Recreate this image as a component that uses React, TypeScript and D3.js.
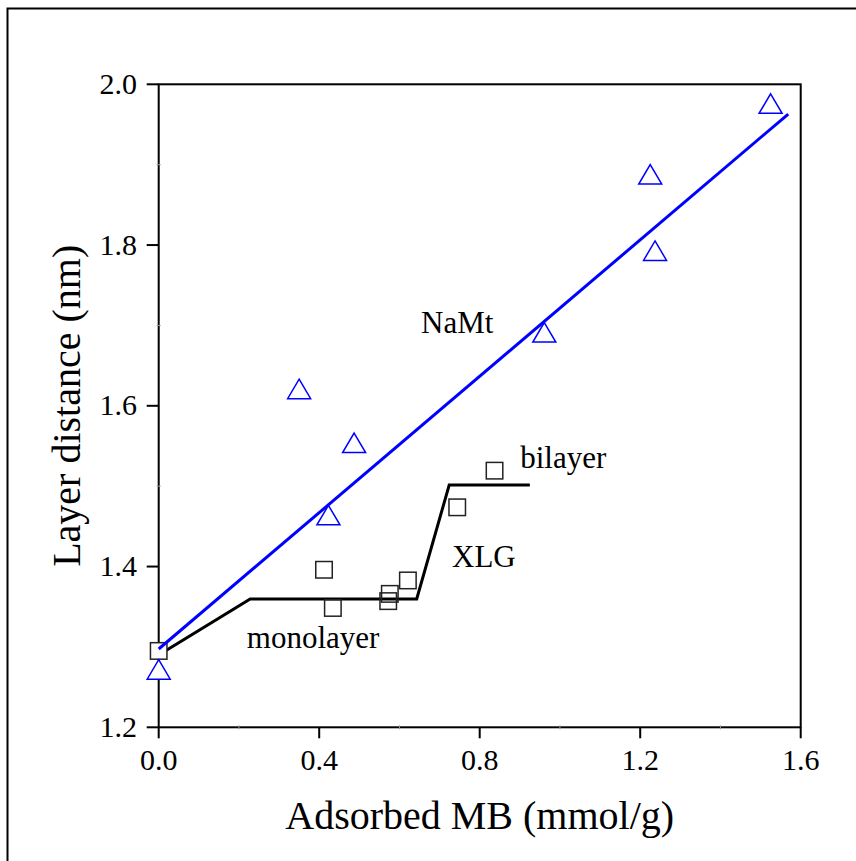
import React from "react";
import * as d3 from "d3";

// NaMt (triangles)
const namtX = [0, 0.35, 0.423, 0.487, 0.961, 1.225, 1.237, 1.525];
const namtY = [1.272, 1.621, 1.464, 1.554, 1.6915, 1.888, 1.793, 1.976];
// NaMt linear fit
const namtFitX = [0, 1.569];
const namtFitY = [1.2974, 1.963];

// XLG (squares)
const xlgX = [0, 0.412, 0.434, 0.576, 0.572, 0.621, 0.744, 0.837];
const xlgY = [1.295, 1.396, 1.3485, 1.366, 1.357, 1.3827, 1.4737, 1.5193];
// XLG guide line
const xlgLineX = [0, 0.228, 0.643, 0.724, 0.925];
const xlgLineY = [1.29, 1.3596, 1.3596, 1.5015, 1.5015];

const xTicks = [0, 0.4, 0.8, 1.2, 1.6];
const xMinor = [0.2, 0.6, 1.0, 1.4];
const yTicks = [1.2, 1.4, 1.6, 1.8, 2.0];
const yMinor = [1.3, 1.5, 1.7, 1.9];

const labels = [
  { text: "NaMt", x: 0.654, y: 1.69 },
  { text: "bilayer", x: 0.901, y: 1.522 },
  { text: "XLG", x: 0.731, y: 1.4 },
  { text: "monolayer", x: 0.2196, y: 1.2983 },
];

const W = 856;
const H = 861;
const left = 158.7;
const right = 800.7;
const top = 84.3;
const bottom = 727.3;
const FONT = "'Liberation Serif', 'Times New Roman', serif";

export default function App() {
  const x = d3.scaleLinear().domain([0, 1.6]).range([left, right]);
  const y = d3.scaleLinear().domain([1.2, 2.0]).range([bottom, top]);
  const line = d3
    .line<[number, number]>()
    .x((d) => x(d[0]))
    .y((d) => y(d[1]));

  const xlgLine = line(xlgLineX.map((v, i) => [v, xlgLineY[i]]));
  const namtLine = line(namtFitX.map((v, i) => [v, namtFitY[i]]));

  const triW = 23;
  const triH = 19.5;
  const sq = 16.5;

  return (
    <svg
      width={W}
      height={H}
      style={{ position: "absolute", left: 0, top: 0, background: "#fff" }}
    >
      <rect x={0} y={0} width={W} height={H} fill="#fff" />
      {/* outer frame */}
      <rect x={7.5} y={8.5} width={W + 20} height={H + 20} fill="none" stroke="#000" strokeWidth={2} />

      {/* plot frame */}
      <rect
        x={left}
        y={top}
        width={right - left}
        height={bottom - top}
        fill="none"
        stroke="#000"
        strokeWidth={2}
      />
      {/* major ticks */}
      {xTicks.map((t) => (
        <line key={"xt" + t} x1={x(t)} x2={x(t)} y1={bottom} y2={bottom + 11} stroke="#000" strokeWidth={2} />
      ))}
      {yTicks.map((t) => (
        <line key={"yt" + t} x1={left - 12} x2={left} y1={y(t)} y2={y(t)} stroke="#000" strokeWidth={2} />
      ))}
      {/* minor ticks */}
      {xMinor.map((t) => (
        <line key={"xm" + t} x1={x(t)} x2={x(t)} y1={bottom - 2} y2={bottom + 2} stroke="#999" strokeWidth={1} />
      ))}
      {yMinor.map((t) => (
        <line key={"ym" + t} x1={left - 2} x2={left + 2} y1={y(t)} y2={y(t)} stroke="#999" strokeWidth={1} />
      ))}
      {/* tick labels */}
      {xTicks.map((t) => (
        <text key={"xl" + t} x={x(t)} y={770} textAnchor="middle" fontFamily={FONT} fontSize={30} fill="#000">
          {d3.format(".1f")(t)}
        </text>
      ))}
      {yTicks.map((t) => (
        <text key={"yl" + t} x={137} y={y(t) + 9.5} textAnchor="end" fontFamily={FONT} fontSize={30} fill="#000">
          {d3.format(".1f")(t)}
        </text>
      ))}
      {/* axis titles */}
      <text x={(left + right) / 2} y={829} textAnchor="middle" fontFamily={FONT} fontSize={40} fill="#000">
        Adsorbed MB (mmol/g)
      </text>
      <text
        transform={`translate(80, ${(top + bottom) / 2}) rotate(-90)`}
        textAnchor="middle"
        fontFamily={FONT}
        fontSize={40}
        fill="#000"
      >
        Layer distance (nm)
      </text>

      {/* XLG guide line */}
      <path d={xlgLine || ""} fill="none" stroke="#000" strokeWidth={3} />
      {/* squares */}
      {xlgX.map((v, i) => (
        <rect
          key={"sq" + i}
          x={x(v) - sq / 2}
          y={y(xlgY[i]) - sq / 2}
          width={sq}
          height={sq}
          fill="#fff"
          fillOpacity={i === 0 ? 1 : 0}
          stroke="#222"
          strokeWidth={1.5}
        />
      ))}
      {/* NaMt fit */}
      <path d={namtLine || ""} fill="none" stroke="#0000ff" strokeWidth={3} />
      {/* triangles */}
      {namtX.map((v, i) => {
        const cx = x(v);
        const cy = y(namtY[i]);
        const p = `M${cx},${cy - triH / 2}L${cx + triW / 2},${cy + triH / 2}L${cx - triW / 2},${cy + triH / 2}Z`;
        return <path key={"tr" + i} d={p} fill="#fff" stroke="#0000ff" strokeWidth={1.5} />;
      })}

      {/* annotations */}
      {labels.map((l) => (
        <text key={l.text} x={x(l.x)} y={y(l.y)} fontFamily={FONT} fontSize={31} fill="#000">
          {l.text}
        </text>
      ))}
    </svg>
  );
}
